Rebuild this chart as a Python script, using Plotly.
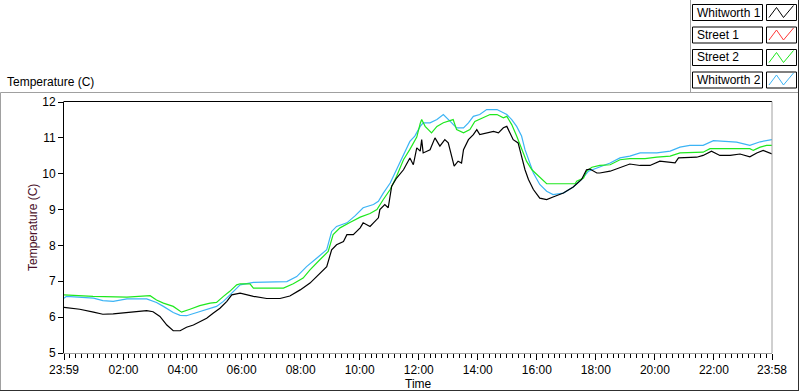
import plotly.graph_objects as go

# ---------------- data (minutes after 23:59, temperature in C) ----------------
series_names = ["Whitworth 1", "Street 1", "Street 2", "Whitworth 2"]
series_colors = ["#000000", "#ff3838", "#1ee81e", "#3cb4f5"]

w1_minutes = [0, 32, 60, 79, 100, 127, 148, 168, 181, 195, 209, 222, 236, 249, 263, 276, 290, 303,
              317, 331, 341, 358, 385, 412, 439, 459, 480, 500, 520, 534, 544, 554, 568, 575, 588,
              602, 608, 622, 629, 639, 642, 652, 659, 666, 676, 690, 703, 710, 717, 724, 727, 730,
              744, 754, 764, 774, 781, 788, 793, 801, 808, 812, 822, 832, 839, 845, 859, 873, 883,
              893, 900, 906, 913, 923, 930, 937, 944, 954, 967, 981, 994, 1015, 1035, 1052, 1062,
              1069, 1083, 1089, 1110, 1130, 1150, 1171, 1191, 1211, 1232, 1242, 1249, 1266, 1286,
              1299, 1316, 1333, 1354, 1374, 1394, 1408, 1421, 1439]
w1_temps = [6.27, 6.22, 6.14, 6.08, 6.09, 6.13, 6.15, 6.18, 6.15, 6.02, 5.78, 5.62, 5.62, 5.72, 5.78,
            5.88, 5.97, 6.11, 6.25, 6.44, 6.62, 6.67, 6.58, 6.52, 6.52, 6.59, 6.76, 6.95, 7.23, 7.41,
            7.88, 8.02, 8.11, 8.30, 8.30, 8.49, 8.63, 8.53, 8.63, 8.77, 9.00, 9.14, 9.05, 9.65, 9.88,
            10.11, 10.44, 10.25, 10.72, 10.63, 10.95, 10.58, 10.67, 11.00, 10.77, 10.95, 10.86,
            10.44, 10.21, 10.35, 10.30, 10.67, 10.95, 11.09, 11.23, 11.09, 11.14, 11.18, 11.14,
            11.28, 11.32, 11.14, 10.95, 10.86, 10.49, 10.11, 9.84, 9.56, 9.32, 9.28, 9.35, 9.46,
            9.63, 9.84, 10.11, 10.13, 10.02, 10.02, 10.07, 10.18, 10.27, 10.23, 10.23, 10.35,
            10.33, 10.30, 10.44, 10.44, 10.46, 10.51, 10.63, 10.51, 10.51, 10.55, 10.47, 10.58,
            10.65, 10.55]

s1_minutes = []
s1_temps = []

s2_minutes = [0, 59, 128, 175, 188, 202, 222, 239, 256, 276, 297, 310, 324, 337, 351, 358, 378, 385,
              446, 466, 486, 500, 520, 537, 547, 561, 581, 602, 622, 636, 649, 663, 676, 690, 703,
              717, 724, 727, 734, 747, 758, 771, 791, 798, 812, 825, 835, 852, 866, 880, 893, 900,
              910, 920, 930, 940, 951, 964, 978, 981, 1039, 1042, 1056, 1062, 1073, 1089, 1110, 1130,
              1150, 1181, 1205, 1232, 1252, 1272, 1299, 1313, 1367, 1394, 1401, 1415, 1428, 1439]
s2_temps = [6.62, 6.58, 6.56, 6.60, 6.48, 6.39, 6.30, 6.14, 6.22, 6.32, 6.39, 6.41, 6.58, 6.72, 6.90,
            6.93, 6.93, 6.81, 6.81, 6.93, 7.09, 7.32, 7.60, 7.83, 8.30, 8.49, 8.64, 8.79, 8.89, 9.00,
            9.28, 9.56, 9.93, 10.39, 10.68, 11.02, 11.40, 11.51, 11.32, 11.14, 11.32, 11.42, 11.51,
            11.23, 11.14, 11.23, 11.46, 11.56, 11.65, 11.65, 11.56, 11.60, 11.37, 11.05, 10.67,
            10.35, 10.11, 9.93, 9.74, 9.72, 9.72, 9.79, 9.88, 10.07, 10.18, 10.23, 10.25, 10.39,
            10.42, 10.42, 10.46, 10.49, 10.58, 10.58, 10.60, 10.70, 10.70, 10.70, 10.65, 10.74,
            10.79, 10.79]

w2_minutes = [0, 5, 60, 79, 100, 128, 168, 188, 202, 222, 236, 249, 270, 290, 310, 324, 337, 351, 358,
              385, 425, 453, 473, 493, 514, 534, 544, 554, 575, 592, 608, 629, 639, 649, 663, 676,
              690, 703, 713, 724, 730, 744, 758, 771, 785, 798, 812, 822, 832, 845, 859, 880, 900,
              910, 920, 930, 937, 944, 954, 967, 981, 994, 1015, 1035, 1052, 1066, 1083, 1110, 1130,
              1150, 1171, 1205, 1232, 1252, 1272, 1299, 1320, 1347, 1367, 1394, 1415, 1439]
w2_temps = [6.53, 6.58, 6.53, 6.46, 6.44, 6.51, 6.51, 6.41, 6.30, 6.13, 6.05, 6.04, 6.13, 6.22, 6.30,
            6.44, 6.62, 6.81, 6.90, 6.97, 6.97, 6.99, 7.13, 7.41, 7.65, 7.88, 8.39, 8.53, 8.63,
            8.83, 9.05, 9.14, 9.23, 9.46, 9.74, 10.11, 10.49, 10.90, 11.05, 11.32, 11.42, 11.42,
            11.51, 11.65, 11.46, 11.28, 11.28, 11.42, 11.60, 11.65, 11.79, 11.79, 11.65, 11.51,
            11.32, 11.05, 10.67, 10.39, 10.02, 9.70, 9.51, 9.42, 9.46, 9.63, 9.84, 10.07, 10.16,
            10.30, 10.44, 10.49, 10.58, 10.58, 10.63, 10.74, 10.79, 10.79, 10.92, 10.89, 10.88,
            10.79, 10.89, 10.95]

x_tick_minutes = [0, 121, 241, 361, 481, 601, 721, 841, 961, 1081, 1201, 1321, 1439]
y_ticks = [5, 6, 7, 8, 9, 10, 11, 12]
start_clock = 23 * 60 + 59

chart_title = "Temperature (C)"
y_title = "Temperature (C)"
x_title = "Time"

# ---------------- figure ----------------
W, H = 800, 392
L, R, T, B = 64, 772, 102, 353
FONT = "Liberation Sans"


def clock(m):
    t = (start_clock + m) % 1440
    return f"{t // 60:02d}:{t % 60:02d}"


def px(x, y):
    return (x - L) / (R - L), (B - y) / (B - T)


fig = go.Figure()
all_x = [w1_minutes, s1_minutes, s2_minutes, w2_minutes]
all_y = [w1_temps, s1_temps, s2_temps, w2_temps]
# draw order: blue, green, red, black on top
for i in [3, 2, 1, 0]:
    fig.add_trace(go.Scatter(x=all_x[i], y=all_y[i], mode="lines", name=series_names[i],
                             line=dict(color=series_colors[i], width=1.2), showlegend=False))

shapes = []


def line(x0, y0, x1, y1, color, width=1):
    a = px(x0, y0)
    b = px(x1, y1)
    shapes.append(dict(type="line", xref="paper", yref="paper", x0=a[0], y0=a[1], x1=b[0], y1=b[1],
                       line=dict(color=color, width=width), layer="above"))


# plot-area frame: top black, right grey
line(L - 0.5, T - 0.5, R, T - 0.5, "#000000")
line(R, T - 0.5, R, B, "#a0a0a0")
# outer frame
line(0.5, 92.5, 798, 92.5, "#a0a0a0")
line(0.5, 92.5, 0.5, 391, "#a0a0a0")
line(0, 390.5, 799, 390.5, "#303030")
line(798.5, 0, 798.5, 391, "#303030")
line(690.5, 0, 690.5, 92.5, "#a0a0a0")

annotations = []
# legend
for k, (name, col) in enumerate(zip(series_names, series_colors)):
    top = 4.5 + 22.5 * k
    bot = top + 16
    a = px(692.5, top)
    b = px(762.5, bot)
    shapes.append(dict(type="rect", xref="paper", yref="paper", x0=a[0], y0=b[1], x1=b[0], y1=a[1],
                       line=dict(color="#000000", width=1), fillcolor="#ffffff", layer="above"))
    a = px(766.5, top)
    b = px(796.5, bot)
    shapes.append(dict(type="rect", xref="paper", yref="paper", x0=a[0], y0=b[1], x1=b[0], y1=a[1],
                       line=dict(color="#000000", width=1), fillcolor="#ffffff", layer="above"))
    pts = [(769, bot - 3), (776.5, top + 3), (783.5, bot - 3), (793.5, top + 1)]
    path = ""
    for j, (xx, yy) in enumerate(pts):
        p = px(xx, yy)
        path += ("M" if j == 0 else "L") + f"{p[0]:.5f},{p[1]:.5f} "
    shapes.append(dict(type="path", xref="paper", yref="paper", path=path,
                       line=dict(color=col, width=1), layer="above"))
    tp = px(695, (top + bot) / 2)
    annotations.append(dict(text=name, xref="paper", yref="paper", x=tp[0], y=tp[1],
                            xanchor="left", yanchor="middle", showarrow=False,
                            font=dict(family=FONT, size=12, color="#000000")))

tp = px(5, 82)
annotations.append(dict(text=chart_title, xref="paper", yref="paper", x=tp[0], y=tp[1],
                        xanchor="left", yanchor="middle", showarrow=False,
                        font=dict(family=FONT, size=12, color="#000000")))
tp = px(418, 384)
annotations.append(dict(text=x_title, xref="paper", yref="paper", x=tp[0], y=tp[1],
                        xanchor="center", yanchor="middle", showarrow=False,
                        font=dict(family=FONT, size=12, color="#000000")))
tp = px(33, 228)
annotations.append(dict(text=y_title, xref="paper", yref="paper", x=tp[0], y=tp[1], textangle=-90,
                        xanchor="center", yanchor="middle", showarrow=False,
                        font=dict(family=FONT, size=12, color="#4a1028")))

fig.update_layout(
    width=W, height=H,
    margin=dict(l=L, r=W - R, t=T, b=H - B, pad=0),
    paper_bgcolor="#ffffff", plot_bgcolor="#ffffff",
    showlegend=False,
    shapes=shapes, annotations=annotations,
    xaxis=dict(range=[0, 1439], tickmode="array", tickvals=x_tick_minutes,
               ticktext=[clock(m) for m in x_tick_minutes],
               ticks="outside", ticklen=6, tickcolor="#000000", tickwidth=1,
               showline=True, linecolor="#a0a0a0", linewidth=1, showgrid=False, zeroline=False,
               tickfont=dict(family=FONT, size=12, color="#000000"),
               minor=dict(tickmode="linear", tick0=0, dtick=12, ticks="outside", ticklen=4,
                          tickcolor="#000000", showgrid=False),
               automargin=False, fixedrange=True),
    yaxis=dict(range=[5, 12], tickmode="array", tickvals=y_ticks,
               ticks="outside", ticklen=5, tickcolor="#000000", tickwidth=1,
               showline=True, linecolor="#000000", linewidth=1, showgrid=False, zeroline=False,
               tickfont=dict(family=FONT, size=12, color="#000000"),
               automargin=False, fixedrange=True),
)

fig.write_html("out.html", config={"displayModeBar": False},
               post_script="document.body.style.margin='0px';document.body.style.overflow='hidden';")
